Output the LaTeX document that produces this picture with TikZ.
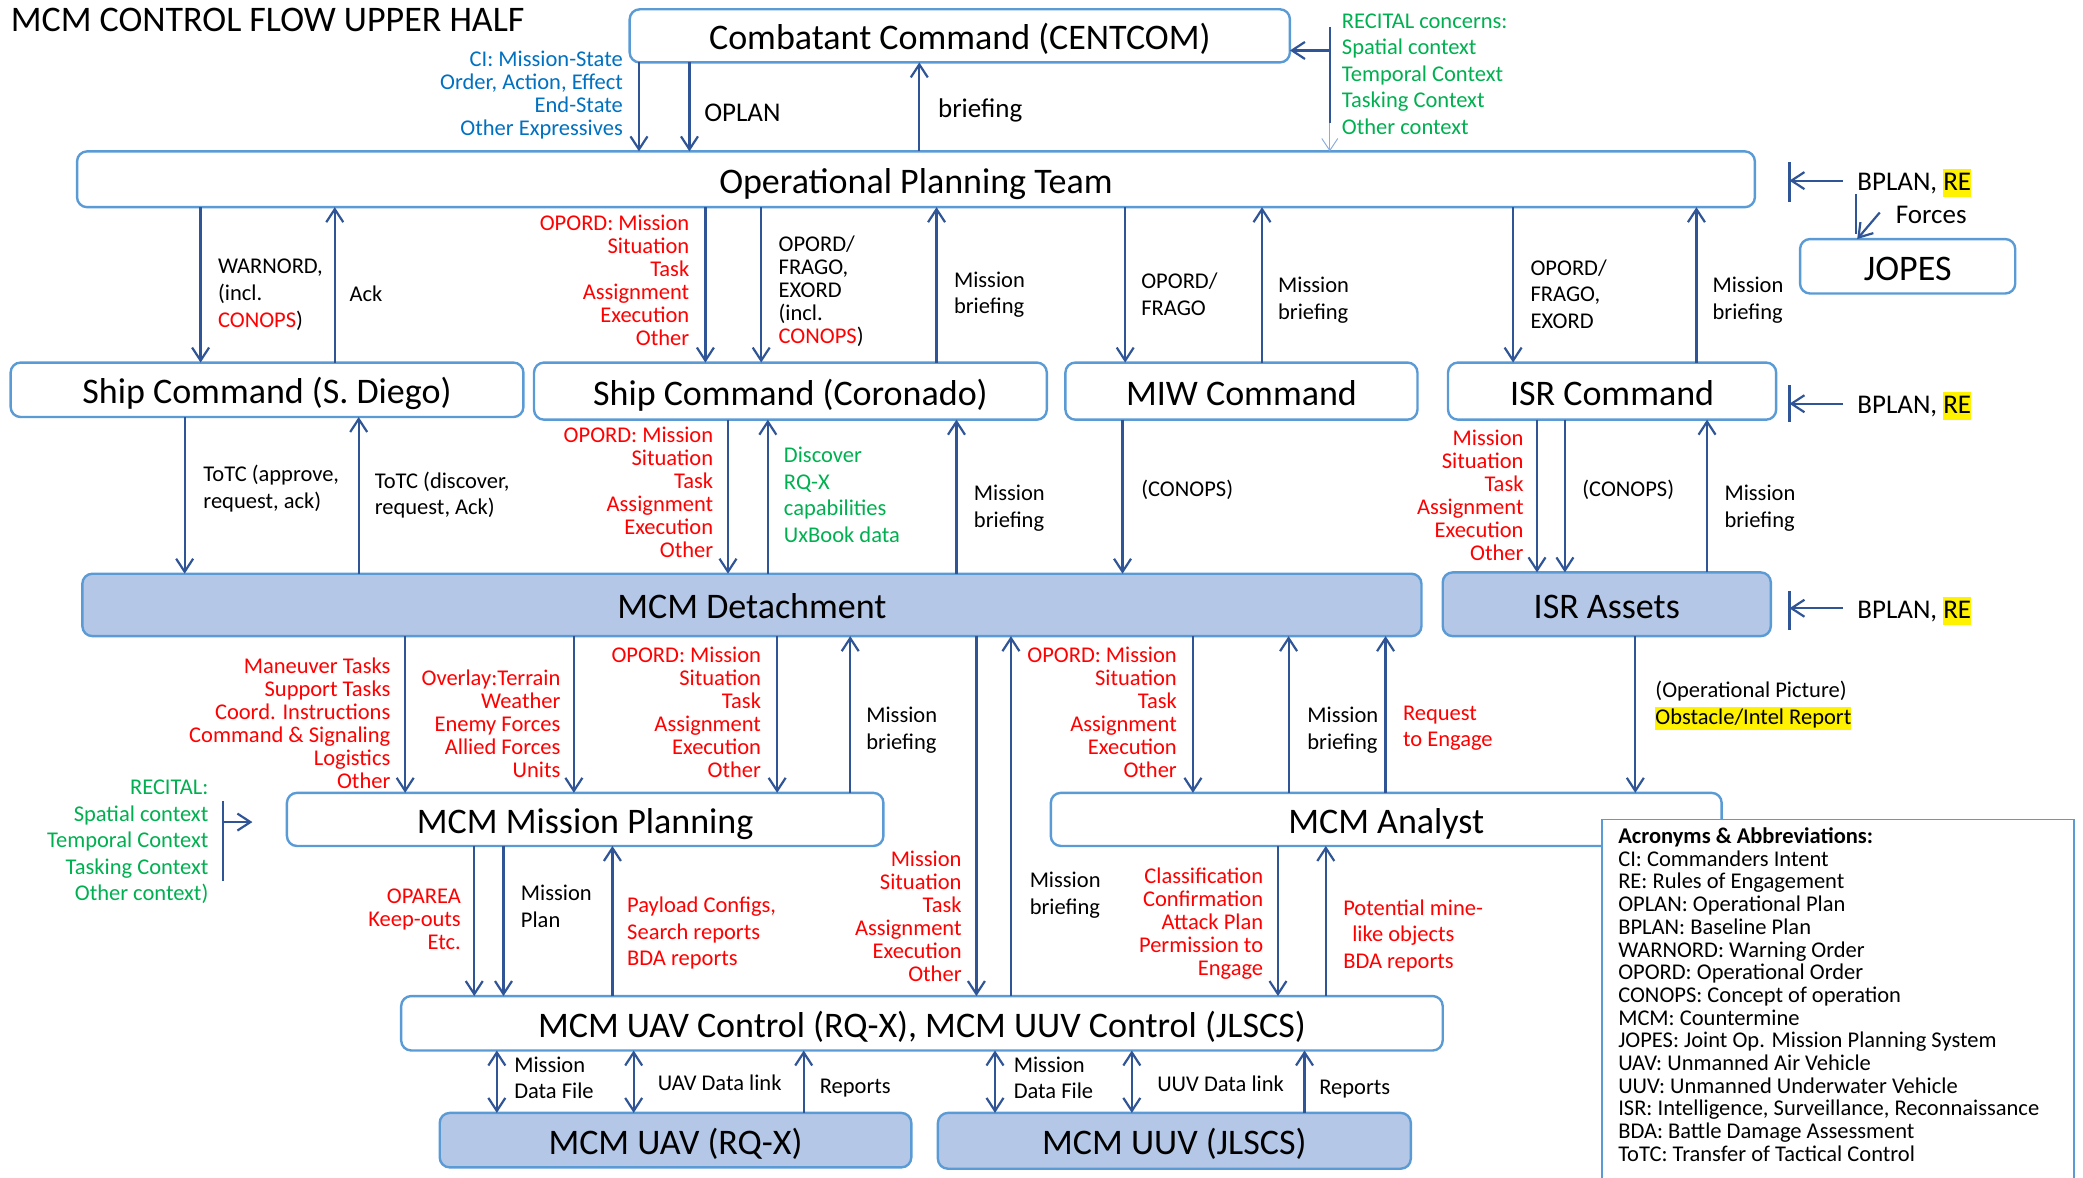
\documentclass[tikz,border=0pt]{standalone}
\usepackage{fontspec}
\setmainfont{Carlito}
\usetikzlibrary{arrows.meta}

\definecolor{edgeblue}{RGB}{91,155,213}
\definecolor{fillblue}{RGB}{180,199,231}
\definecolor{linkblue}{RGB}{47,85,151}
\definecolor{paleblue}{RGB}{143,170,220}
\definecolor{txtred}{RGB}{255,0,0}
\definecolor{txtgreen}{RGB}{0,176,80}
\definecolor{txtblue}{RGB}{0,112,192}

\newcommand\fsTight{\fontsize{22.5}{23}\selectfont}
\newcommand\fsLoose{\fontsize{22.5}{26.6}\selectfont}
\newcommand\fsBig{\fontsize{27}{30}\selectfont}
\newcommand\fsNode{\fontsize{36}{40}\selectfont}
\newcommand\ls{\rule{0pt}{16pt}}
\newcommand\hlt[1]{{\setlength{\fboxsep}{0pt}\colorbox{yellow}{\rule[-0.25em]{0pt}{1.05em}#1}}}

% vertical connectors between two stacked nodes at a given x
\newcommand\godown[3]{\draw[link] (#1.south -| #3,0) -- (#2.north -| #3,0);}
\newcommand\goup[3]{\draw[link] (#2.north -| #3,0) -- (#1.south -| #3,0);}
\newcommand\gobi[3]{\draw[dlink] (#1.south -| #3,0) -- (#2.north -| #3,0);}

\begin{document}
\begin{tikzpicture}[x=1.32844pt, y=-1.32807pt,
  box/.style={draw=edgeblue, line width=2.4pt, rounded corners=10pt, fill=white,
              inner sep=0pt, outer sep=0pt, font=\fsNode,
              text height=33pt, text depth=5pt},
  unit/.style={box, fill=fillblue},
  sized/.style 2 args={minimum width={#1*1.32844pt}, minimum height={#2*1.32807pt}},
  link/.style={draw=linkblue, line width=2.2pt, -{Straight Barb[length=13pt,width=17pt]}},
  dlink/.style={draw=linkblue, line width=2.2pt,
                {Straight Barb[length=13pt,width=17pt]}-{Straight Barb[length=13pt,width=17pt]}},
  bar/.style={draw=linkblue, line width=2.2pt},
  labl/.style={inner sep=0pt, anchor=north west, align=left, font=\fsLoose},
  labr/.style={inner sep=0pt, anchor=north east, align=right, font=\fsTight, text=txtred},
  big/.style={inner sep=0pt, anchor=base west, font=\fsBig},
]
\useasboundingbox (0,0) rectangle (1568,887);

% title
\node[inner sep=0pt, anchor=west, font=\fsNode] (title) at (8,15) {MCM CONTROL FLOW UPPER HALF};

% organisational nodes
\node[box, sized={497}{40}] (cent) at (722.5,27) {Combatant Command (CENTCOM)};
\node[box, sized={1263}{42}] (opt) at (689.5,135) {Operational Planning Team};
\node[box, sized={162}{41}] (jopes) at (1436,200.5) {JOPES};
\node[box, sized={386}{41}] (sdiego) at (201,293.5) {Ship Command (S. Diego)};
\node[box, sized={386}{43}] (coron) at (595,294.5) {Ship Command (Coronado)};
\node[box, sized={265}{43}] (miw) at (934.5,294.5) {MIW Command};
\node[box, sized={247}{43}] (isrc) at (1213.5,294.5) {ISR Command};
\node[unit, sized={1008}{47}] (det) at (566,455.5) {MCM Detachment};
\node[unit, sized={247}{48}] (isra) at (1209.5,455) {ISR Assets};
\node[box, sized={449}{40}] (plan) at (440.5,617) {MCM Mission Planning};
\node[box, sized={505}{40}] (analyst) at (1043.5,617) {MCM Analyst};
\node[box, sized={784}{41}] (ctrl) at (694,770.5) {MCM UAV Control (RQ-X), MCM UUV Control (JLSCS)};
\node[unit, sized={355}{41}] (uav) at (508.5,858.5) {MCM UAV (RQ-X)};
\node[unit, sized={356}{42}] (uuv) at (884,859) {MCM UUV (JLSCS)};

% command level
\godown{cent}{opt}{481} \godown{cent}{opt}{519} \goup{cent}{opt}{692}
\godown{opt}{sdiego}{151} \goup{opt}{sdiego}{252}
\godown{opt}{coron}{531} \godown{opt}{coron}{573} \goup{opt}{coron}{705}
\godown{opt}{miw}{847} \goup{opt}{miw}{950}
\godown{opt}{isrc}{1139} \goup{opt}{isrc}{1277}
% ship / ISR level
\godown{sdiego}{det}{139} \goup{sdiego}{det}{270}
\godown{coron}{det}{548} \goup{coron}{det}{578} \goup{coron}{det}{720}
\godown{miw}{det}{845}
\godown{isrc}{isra}{1157} \godown{isrc}{isra}{1178} \goup{isrc}{isra}{1285}
% detachment level
\godown{det}{plan}{305} \godown{det}{plan}{432} \godown{det}{plan}{585} \goup{det}{plan}{640}
\godown{det}{ctrl}{735} \goup{det}{ctrl}{761}
\godown{det}{analyst}{898} \goup{det}{analyst}{970} \goup{det}{analyst}{1043}
\godown{isra}{analyst}{1231}
% planning / analysis level
\godown{plan}{ctrl}{357} \godown{plan}{ctrl}{379} \goup{plan}{ctrl}{461}
\godown{analyst}{ctrl}{962} \goup{analyst}{ctrl}{998}
% vehicle level
\gobi{ctrl}{uav}{374} \gobi{ctrl}{uav}{477} \goup{ctrl}{uav}{605}
\gobi{ctrl}{uuv}{749} \gobi{ctrl}{uuv}{852} \goup{ctrl}{uuv}{982}

% RECITAL context feed into CENTCOM and the planning team
\coordinate (rtop) at (1001,20);
\coordinate (rmid) at (1001,92.5);
\coordinate (rside) at (1001,38);
\draw[bar] (rtop) -- (rmid);
\draw[draw=paleblue, line width=1pt, -{Straight Barb[length=12pt,width=16pt]}] (rmid) -- (opt.north -| rmid);
\draw[link] (rside) -- (cent.east |- rside);

% RECITAL context feed into mission planning
\coordinate (lrtop) at (168,603);
\coordinate (lrbot) at (168,663);
\coordinate (lrfrom) at (168,619);
\coordinate (lrto) at (190,619);
\draw[bar] (lrtop) -- (lrbot);
\draw[link] (lrfrom) -- (lrto);

% baseline plan inputs
\coordinate (bp1) at (1347,136);
\coordinate (bp2) at (1347,304);
\coordinate (bp3) at (1347,458);
\draw[bar] (1347,122) -- (1347,152);
\draw[bar] (1347,290) -- (1347,318);
\draw[bar] (1347,445) -- (1347,474);
\draw[link] (1387,136) -- (bp1);
\draw[link] (1387,304) -- (bp2);
\draw[link] (1387,458) -- (bp3);
\coordinate (fstem) at (1397,146);
\draw[bar] (fstem) -- (1397,176);
\coordinate (ffrom) at (1415,160);
\draw[link] (ffrom) -- (jopes.north -| 1398,0);

% labels: command level
\node[labr, text=txtblue] (tci) at (469,38) {\ls CI: Mission-State\\Order, Action, Effect\\End-State\\Other Expressives};
\node[big] (toplan) at (530,91.5) {OPLAN};
\node[big] (tbrief) at (706,88.5) {briefing};
\node[labl, text=txtgreen] (trecit) at (1010,9) {\ls RECITAL concerns:\\Spatial context\\Temporal Context\\Tasking Context\\Other context};
\node[big] (tbp1) at (1398,143.5) {BPLAN, \hlt{RE}};
\node[big] (tforces) at (1427,168.5) {Forces};

\node[labl] (twarn) at (164,194) {\ls WARNORD,\\(incl.\\\textcolor{txtred}{CONOPS})};
\node[labl] (tack) at (263,215) {\ls Ack};
\node[labr] (topord1) at (519,161) {\ls OPORD: Mission\\Situation\\Task\\Assignment\\Execution\\Other};
\node[labl, font=\fsTight] (tfrago1) at (586,177) {\ls OPORD/\\FRAGO,\\EXORD\\(incl.\\\textcolor{txtred}{CONOPS})};
\node[labl] (tmb1) at (718,204) {\ls Mission\\briefing};
\node[labl] (tfrago2) at (859,205) {\ls OPORD/\\FRAGO};
\node[labl] (tmb2) at (962,208) {\ls Mission\\briefing};
\node[labl] (tfrago3) at (1152,195) {\ls OPORD/\\FRAGO,\\EXORD};
\node[labl] (tmb3) at (1289,208) {\ls Mission\\briefing};
\node[big] (tbp2) at (1398,311.5) {BPLAN, \hlt{RE}};

% labels: ship / ISR level
\node[labl] (ttotc1) at (153,350) {\ls ToTC (approve,\\request, ack)};
\node[labl] (ttotc2) at (282,355) {\ls ToTC (discover,\\request, Ack)};
\node[labr] (topord2) at (537,321) {\ls OPORD: Mission\\Situation\\Task\\Assignment\\Execution\\Other};
\node[labl, text=txtgreen] (tdisc) at (590,336) {\ls Discover\\RQ-X\\capabilities\\UxBook data};
\node[labl] (tmb4) at (733,365) {\ls Mission\\briefing};
\node[labl] (tconops1) at (859,361) {\ls (CONOPS)};
\node[labr] (tmiss1) at (1147,323) {\ls Mission\\Situation\\Task\\Assignment\\Execution\\Other};
\node[labl] (tconops2) at (1191,361) {\ls (CONOPS)};
\node[labl] (tmb5) at (1298,365) {\ls Mission\\briefing};
\node[big] (tbp3) at (1398,465.5) {BPLAN, \hlt{RE}};

% labels: detachment level
\node[labr] (tmanv) at (294,495) {\ls Maneuver Tasks\\Support Tasks\\Coord. Instructions\\Command \& Signaling\\Logistics\\Other};
\node[labr] (tover) at (422,504) {\ls Overlay:Terrain\\Weather\\Enemy Forces\\Allied Forces\\Units};
\node[labr] (topord3) at (573,487) {\ls OPORD: Mission\\Situation\\Task\\Assignment\\Execution\\Other};
\node[labl] (tmb6) at (652,532) {\ls Mission\\briefing};
\node[labr] (topord4) at (886,487) {\ls OPORD: Mission\\Situation\\Task\\Assignment\\Execution\\Other};
\node[labl] (tmb7) at (984,532) {\ls Mission\\briefing};
\node[labl, text=txtred] (treq) at (1056,530) {\ls Request\\to Engage};
\node[labl] (tpic) at (1246,513) {\ls (Operational Picture)\\\hlt{Obstacle/Intel Report}};
\node[labr, text=txtgreen, font=\fsLoose] (trecit2) at (157,586) {\ls RECITAL:\\Spatial context\\Temporal Context\\Tasking Context\\Other context)};

% labels: planning / analysis level
\node[labr] (tmiss2) at (724,640) {\ls Mission\\Situation\\Task\\Assignment\\Execution\\Other};
\node[labl] (tmb8) at (775,656) {\ls Mission\\briefing};
\node[labr] (toparea) at (347,668) {\ls OPAREA\\Keep-outs\\Etc.};
\node[labl] (tmplan) at (392,666) {\ls Mission\\Plan};
\node[labl, text=txtred] (tpay) at (472,675) {\ls Payload Configs,\\Search reports\\BDA reports};
\node[labr] (tclass) at (951,653) {\ls Classification\\Confirmation\\Attack Plan\\Permission to\\Engage};
\node[labl, text=txtred] (tmine) at (1011,677) {\ls Potential mine-\\\hspace*{9pt}like objects\\BDA reports};

% labels: vehicle level
\node[labl] (tmdf1) at (387,795) {\ls Mission\\Data File};
\node[labl] (tuavdl) at (495,809) {\ls UAV Data link};
\node[labl] (trep1) at (617,811) {\ls Reports};
\node[labl] (tmdf2) at (763,795) {\ls Mission\\Data File};
\node[labl] (tuuvdl) at (871,810) {\ls UUV Data link};
\node[labl] (trep2) at (993,812) {\ls Reports};

% acronym legend
\fill[white] (1206,617) rectangle (1561,887);
\draw[draw=edgeblue, line width=1.8pt] (1206,887) -- (1206,617) -- (1561,617) -- (1561,887);
\node[inner sep=0pt, anchor=north west, align=left, font=\fontsize{22.5}{22.7}\selectfont] (acr) at (1218,623)
 {\ls\textbf{Acronyms \& Abbreviations:}\\
  CI: Commanders Intent\\
  RE: Rules of Engagement\\
  OPLAN: Operational Plan\\
  BPLAN: Baseline Plan\\
  WARNORD: Warning Order\\
  OPORD: Operational Order\\
  CONOPS: Concept of operation\\
  MCM: Countermine\\
  JOPES: Joint Op. Mission Planning System\\
  UAV: Unmanned Air Vehicle\\
  UUV: Unmanned Underwater Vehicle\\
  ISR: Intelligence, Surveillance, Reconnaissance\\
  BDA: Battle Damage Assessment\\
  ToTC: Transfer of Tactical Control};
\end{tikzpicture}
\end{document}
